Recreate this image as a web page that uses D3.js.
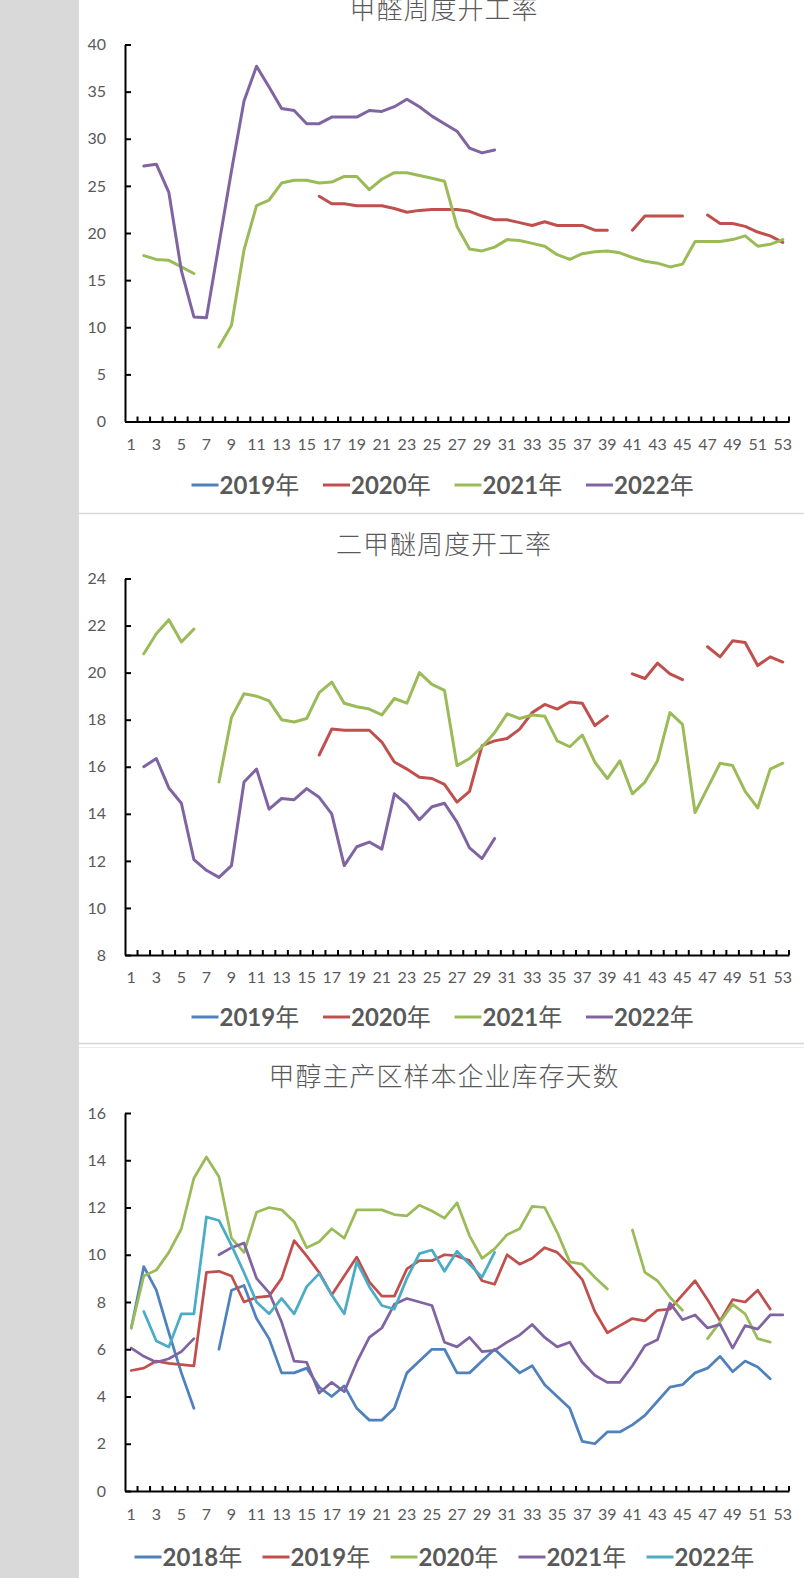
<!DOCTYPE html>
<html><head><meta charset="utf-8">
<script src="https://cdn.jsdelivr.net/npm/d3@7"></script>
<style>
html,body{margin:0;padding:0;background:#fff;}
svg{display:block;}
</style></head>
<body><svg id="c" width="804" height="1578"></svg>
<script>
// ---------- DATA ----------
const weeks = [1,2,3,4,5,6,7,8,9,10,11,12,13,14,15,16,17,18,19,20,21,22,23,24,25,26,27,28,29,30,31,32,33,34,35,36,37,38,39,40,41,42,43,44,45,46,47,48,49,50,51,52,53];
const xTickLabels = [1,3,5,7,9,11,13,15,17,19,21,23,25,27,29,31,33,35,37,39,41,43,45,47,49,51,53];

// Chart 1: 甲醛周度开工率
const faYears = ["2019","2020","2021","2022"];
const fa2019 = [];
const fa2020 = [null,null,null,null,null,null,null,null,null,null,
  null,null,null,null,null,23.9,23.1,23.1,22.9,22.9,
  22.9,22.6,22.2,22.4,22.5,22.5,22.5,22.3,21.8,21.4,
  21.4,21.1,20.8,21.2,20.8,20.8,20.8,20.3,20.3,null,
  20.3,21.8,21.8,21.8,21.8,null,21.9,21.0,21.0,20.7,
  20.1,19.7,19.0];
const fa2021 = [null,17.6,17.2,17.1,16.4,15.7,null,7.9,10.2,18.2,
  22.9,23.5,25.3,25.6,25.6,25.3,25.4,26.0,26.0,24.6,
  25.7,26.4,26.4,26.1,25.8,25.5,20.7,18.3,18.1,18.5,
  19.3,19.2,18.9,18.6,17.7,17.2,17.8,18.0,18.1,17.9,
  17.4,17.0,16.8,16.4,16.7,19.1,19.1,19.1,19.3,19.7,
  18.6,18.8,19.3];
const fa2022 = [null,27.1,27.3,24.3,16.0,11.1,11.0,18.8,26.6,34.0,
  37.7,35.5,33.2,33.0,31.6,31.6,32.3,32.3,32.3,33.0,
  32.9,33.4,34.2,33.4,32.4,31.6,30.8,29.0,28.5,28.8];
const faTicks = [0,5,10,15,20,25,30,35,40];

// Chart 2: 二甲醚周度开工率
const dmeYears = ["2019","2020","2021","2022"];
const dme2019 = [];
const dme2020 = [null,null,null,null,null,null,null,null,null,null,
  null,null,null,null,null,16.5,17.6,17.55,17.55,17.55,
  17.05,16.2,15.9,15.55,15.5,15.25,14.5,14.95,16.9,17.1,
  17.2,17.6,18.3,18.65,18.45,18.75,18.7,17.75,18.15,null,
  19.95,19.75,20.4,19.95,19.7,null,21.1,20.67,21.35,21.28,
  20.3,20.67,20.45];
const dme2021 = [null,20.8,21.65,22.25,21.3,21.85,null,15.35,18.1,19.1,
  19.0,18.8,18.0,17.9,18.05,19.15,19.6,18.7,18.55,18.45,
  18.2,18.9,18.7,20.0,19.5,19.25,16.05,16.35,16.85,17.45,
  18.25,18.05,18.2,18.15,17.1,16.85,17.35,16.2,15.5,16.25,
  14.85,15.35,16.25,18.3,17.8,14.05,15.1,16.15,16.05,14.95,
  14.25,15.9,16.15];
const dme2022 = [null,16.0,16.35,15.1,14.45,12.05,11.6,11.3,11.8,15.35,
  15.9,14.2,14.65,14.6,15.07,14.7,14.0,11.8,12.6,12.8,
  12.5,14.85,14.4,13.75,14.3,14.45,13.65,12.55,12.1,12.95];
const dmeTicks = [8,10,12,14,16,18,20,22,24];

// Chart 3: 甲醇主产区样本企业库存天数
const invYears = ["2018","2019","2020","2021","2022"];
const inv2018 = [6.9,9.5,8.5,6.7,5.0,3.5,null,6.0,8.5,8.7,
  7.3,6.45,5.0,5.0,5.2,4.4,4.0,4.45,3.5,3.0,
  3.0,3.5,5.0,5.5,6.0,6.0,5.0,5.0,5.5,6.0,
  5.5,5.0,5.3,4.5,4.0,3.5,2.1,2.0,2.5,2.5,
  2.8,3.2,3.8,4.4,4.5,5.0,5.2,5.7,5.05,5.5,
  5.25,4.75,null];
const inv2019 = [5.1,5.2,5.5,5.4,5.35,5.3,9.25,9.3,9.1,8.0,
  8.2,8.25,9.0,10.6,9.95,9.25,8.3,9.1,9.9,8.85,
  8.25,8.25,9.4,9.75,9.75,10.0,9.95,9.75,8.9,8.75,
  10.0,9.6,9.85,10.3,10.1,9.55,8.95,7.6,6.7,7.0,
  7.3,7.2,7.65,7.7,8.3,8.9,8.1,7.2,8.1,8.0,
  8.5,7.7,null];
const inv2020 = [6.9,9.1,9.35,10.1,11.1,13.24,14.14,13.3,10.7,10.1,
  11.8,12.0,11.9,11.4,10.3,10.55,11.1,10.7,11.9,11.9,
  11.9,11.7,11.65,12.1,11.85,11.55,12.2,10.8,9.85,10.25,
  10.85,11.1,12.05,12.0,10.95,9.7,9.6,9.05,8.55,null,
  11.05,9.25,8.9,8.2,7.65,null,6.45,7.15,7.9,7.5,
  6.45,6.3,null];
const inv2021 = [6.05,5.7,5.45,5.6,5.9,6.45,null,10.0,10.3,10.5,
  9.0,8.4,7.15,5.5,5.45,4.15,4.6,4.2,5.45,6.5,
  6.9,7.9,8.15,8.0,7.85,6.3,6.1,6.5,5.9,5.95,
  6.3,6.6,7.05,6.5,6.1,6.3,5.45,4.9,4.6,4.6,
  5.3,6.15,6.4,7.95,7.25,7.45,6.9,7.05,6.05,7.0,
  6.85,7.45,7.45];
const inv2022 = [null,7.6,6.35,6.1,7.5,7.5,11.6,11.45,10.4,9.25,
  8.0,7.5,8.15,7.5,8.65,9.2,8.3,7.5,9.7,8.65,
  7.85,7.7,9.0,10.05,10.2,9.3,10.15,9.6,9.05,10.1];
const invTicks = [0,2,4,6,8,10,12,14,16];

const palette = ["#4F81BD","#C0504D","#9BBB59","#8064A2","#4BACC6"];

// ---------- DRAW ----------
const svg = d3.select("#c");
svg.append("rect").attr("x",0).attr("y",0).attr("width",804).attr("height",1578).attr("fill","#fff");
svg.append("rect").attr("x",0).attr("y",0).attr("width",79).attr("height",1578).attr("fill","#d9d9d9");
// separators
svg.append("line").attr("x1",79).attr("x2",804).attr("y1",513.5).attr("y2",513.5).attr("stroke","#d9d9d9").attr("stroke-width",1.5);
svg.append("line").attr("x1",79).attr("x2",804).attr("y1",1043.5).attr("y2",1043.5).attr("stroke","#d4d4d4").attr("stroke-width",1.5);
svg.append("line").attr("x1",79).attr("x2",804).attr("y1",1047.5).attr("y2",1047.5).attr("stroke","#ececec").attr("stroke-width",1);

const X0 = 125, X1 = 789;
const TXT = "#595959";

function drawChart(cfg){
  const g = svg.append("g");
  const xb = d3.scaleBand().domain(weeks).range([X0, X1]).padding(0);
  const xc = w => xb(w) + xb.bandwidth()/2;
  const xl = d3.scaleLinear().domain([0.5, weeks.length + 0.5]).range([X0, X1]);
  const y = d3.scaleLinear().domain(cfg.domain).range([cfg.bottom, cfg.top]);

  // title
  g.append("text").attr("x",444).attr("y",cfg.titleY).attr("text-anchor","middle")
    .attr("font-family","'Noto Sans CJK SC','Noto Sans',sans-serif").attr("font-size",26)
    .attr("font-weight",300).attr("letter-spacing","1px").attr("fill",TXT).text(cfg.title);

  // series lines
  const line = d3.line().defined(d => d[1] != null).x(d => xc(d[0])).y(d => y(d[1]));
  cfg.series.forEach((s, i) => {
    const pts = weeks.map((w, j) => [w, s[j] === undefined ? null : s[j]]);
    g.append("path").attr("d", line(pts)).attr("fill","none")
      .attr("stroke", cfg.colors[i]).attr("stroke-width", cfg.lw)
      .attr("stroke-linejoin","round").attr("stroke-linecap","round");
  });

  // y axis
  const ya = g.append("g").attr("transform",`translate(${X0},0)`)
    .call(d3.axisLeft(y).tickValues(cfg.ticks).tickSizeInner(-6).tickSizeOuter(0).tickPadding(19));
  ya.select(".domain").attr("stroke","#000").attr("stroke-width",2);
  ya.selectAll(".tick line").attr("stroke","#000").attr("stroke-width",2);
  ya.selectAll("text").attr("font-family","Lato, sans-serif").attr("font-size",16).attr("fill",TXT);

  // x axis
  const xa = g.append("g").attr("transform",`translate(0,${cfg.bottom})`)
    .call(d3.axisBottom(xb).tickValues(xTickLabels).tickSize(0).tickPadding(cfg.labelPad));
  xa.select(".domain").attr("stroke","#000").attr("stroke-width",2);
  xa.selectAll("text").attr("font-family","Lato, sans-serif").attr("font-size",16).attr("fill",TXT);
  // category boundary ticks (inside)
  const bounds = weeks.map(w => w + 0.5);
  g.append("g").selectAll("line").data(bounds).join("line")
    .attr("x1", d => xl(d)).attr("x2", d => xl(d))
    .attr("y1", cfg.bottom).attr("y2", cfg.bottom - 5)
    .attr("stroke","#000").attr("stroke-width",2);

  // legend
  const lg = g.append("g");
  cfg.names.forEach((n, i) => {
    const it = lg.append("g").attr("transform",`translate(${cfg.legX + i*cfg.legStep},${cfg.legY})`);
    it.append("line").attr("x1",0).attr("x2",27).attr("y1",0).attr("y2",0)
      .attr("stroke", cfg.colors[i]).attr("stroke-width",3);
    const t = it.append("text").attr("x",28).attr("y",0).attr("dy","0.36em").attr("fill",TXT).attr("font-size",24);
    t.append("tspan").attr("font-family","Lato, sans-serif").attr("font-weight",700).text(n);
    t.append("tspan").attr("font-family","'Noto Sans CJK SC',sans-serif").attr("font-weight",400).text("年");
  });
}

drawChart({
  title:"甲醛周度开工率", titleY:19,
  series:[fa2019, fa2020, fa2021, fa2022], names:faYears, colors:palette.slice(0,4),
  domain:[0,40], ticks:faTicks, top:44.5, bottom:421.5, labelPad:17, lw:3,
  legX:191.5, legStep:131.5, legY:485
});
drawChart({
  title:"二甲醚周度开工率", titleY:554,
  series:[dme2019, dme2020, dme2021, dme2022], names:dmeYears, colors:palette.slice(0,4),
  domain:[8,24], ticks:dmeTicks, top:578.5, bottom:955, labelPad:17, lw:3,
  legX:191.5, legStep:131.5, legY:1017
});
drawChart({
  title:"甲醇主产区样本企业库存天数", titleY:1086,
  series:[inv2018, inv2019, inv2020, inv2021, inv2022], names:invYears, colors:palette,
  domain:[0,16], ticks:invTicks, top:1113, bottom:1491, labelPad:18, lw:2.75,
  legX:134.5, legStep:128, legY:1557
});
</script>
</body></html>
